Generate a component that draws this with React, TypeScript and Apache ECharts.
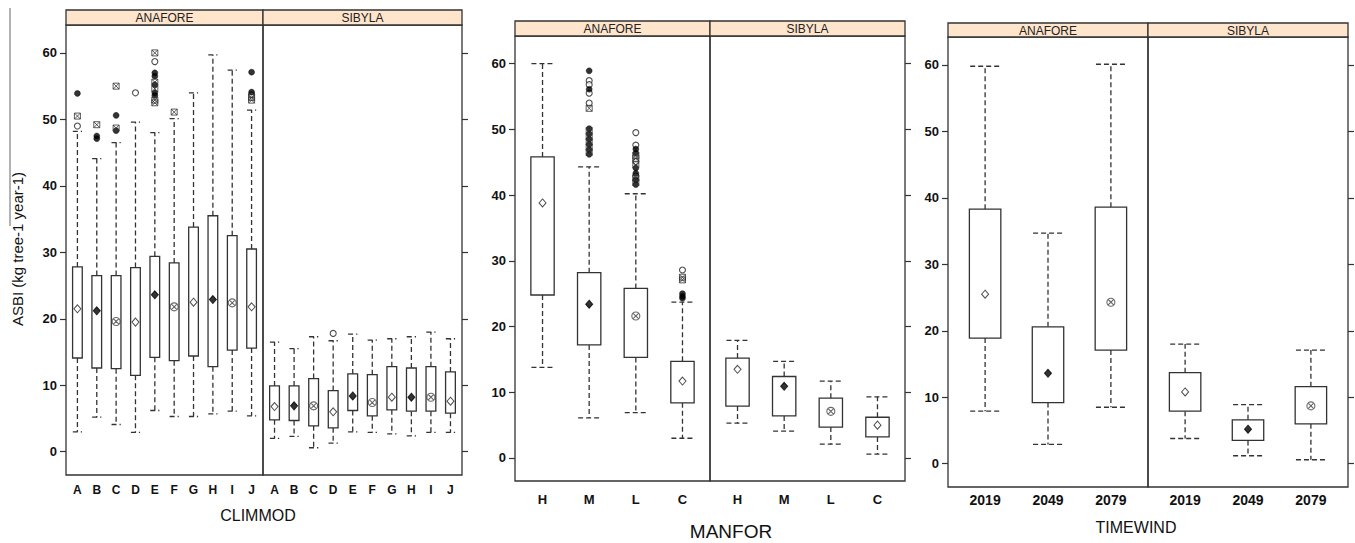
import React, { useEffect, useRef } from "react";
import * as echarts from "echarts";

// ---------- categories ----------
const FACETS = ["ANAFORE", "SIBYLA"];
const climCats = ["A", "B", "C", "D", "E", "F", "G", "H", "I", "J"];
const manforCats = ["H", "M", "L", "C"];
const timeCats = ["2019", "2049", "2079"];
const yTicks = [0, 10, 20, 30, 40, 50, 60];

// ---------- box stats: [lower whisker, Q1, Q3, upper whisker] ----------
const climAnaforeBox = [
  [3.0, 14.1, 27.8, 48.2], [5.2, 12.6, 26.5, 44.1], [4.1, 12.5, 26.5, 46.5], [2.9, 11.5, 27.7, 49.6],
  [6.2, 14.2, 29.4, 48.0], [5.3, 13.7, 28.4, 50.1], [5.3, 14.4, 33.8, 54.0], [5.7, 12.8, 35.5, 59.7],
  [6.1, 15.3, 32.5, 57.4], [5.4, 15.6, 30.5, 51.4],
];
const climAnaforeMean = [21.5, 21.2, 19.6, 19.5, 23.6, 21.8, 22.5, 22.9, 22.4, 21.8];
const climSibylaBox = [
  [2.0, 4.8, 9.9, 16.5], [2.3, 4.7, 9.9, 15.5], [0.6, 3.9, 11.0, 17.3], [1.3, 3.6, 9.2, 16.7],
  [3.0, 6.2, 11.7, 17.7], [2.9, 5.4, 11.6, 16.8], [2.7, 6.3, 12.8, 17.0], [2.4, 6.1, 12.6, 17.3],
  [2.9, 6.1, 12.8, 18.0], [2.9, 5.8, 12.0, 17.0],
];
const climSibylaMean = [6.8, 6.9, 6.9, 6.0, 8.4, 7.4, 8.2, 8.2, 8.2, 7.6];

const manforAnaforeBox = [
  [13.8, 24.8, 45.8, 60.0], [6.1, 17.2, 28.2, 44.3], [6.9, 15.3, 25.8, 40.2], [3.0, 8.4, 14.7, 23.7],
];
const manforAnaforeMean = [38.8, 23.4, 21.6, 11.7];
const manforSibylaBox = [
  [5.3, 7.9, 15.2, 17.9], [4.1, 6.4, 12.4, 14.7], [2.1, 4.7, 9.1, 11.7], [0.6, 3.2, 6.2, 9.3],
];
const manforSibylaMean = [13.5, 10.9, 7.1, 5.0];

const timeAnaforeBox = [
  [7.9, 18.9, 38.3, 59.8], [2.9, 9.2, 20.6, 34.7], [8.5, 17.1, 38.6, 60.1],
];
const timeAnaforeMean = [25.5, 13.6, 24.3];
const timeSibylaBox = [
  [3.8, 7.9, 13.7, 18.0], [1.2, 3.5, 6.6, 8.9], [0.6, 6.0, 11.6, 17.1],
];
const timeSibylaMean = [10.8, 5.2, 8.7];

// ---------- outliers per category (open / filled / crossed) ----------
const climAnaforeOutOpen = [[49.0], [], [], [54.0], [58.7], [], [], [], [], [53.7]];
const climAnaforeOutFilled = [[53.9], [47.5, 47.1], [50.6, 48.3], [], [57.0, 56.5, 55.2, 54.0, 53.6], [], [], [], [], [57.1, 54.1]];
const climAnaforeOutCross = [[50.5], [49.2], [55.0, 48.7], [], [60.0, 55.6, 54.6, 52.9, 52.5], [51.1], [], [], [], [53.3, 52.9]];
const climSibylaOutOpen = [[], [], [], [17.8], [], [], [], [], [], []];

const manforAnaforeOutOpen = [[], [57.4, 56.8, 55.5, 54.0], [49.5, 47.6, 45.1, 42.9], [28.6]];
const manforAnaforeOutFilled = [[], [58.9, 56.1, 50.1, 49.3, 48.5, 47.7, 46.9, 46.2], [47.0, 46.4, 44.1, 43.3, 42.3, 41.6], [25.0, 24.6, 24.3]];
const manforAnaforeOutCross = [[], [53.2, 49.8, 48.9, 48.1, 47.3, 46.5], [46.0, 45.6, 44.6, 42.6, 41.9], [27.5, 27.1]];

const EMPTY = (n: number) => Array.from({ length: n }, () => [] as number[]);

const panelsData = [
  {
    cats: climCats, title: "CLIMMOD",
    facets: [
      { box: climAnaforeBox, mean: climAnaforeMean, out: [climAnaforeOutOpen, climAnaforeOutFilled, climAnaforeOutCross] },
      { box: climSibylaBox, mean: climSibylaMean, out: [climSibylaOutOpen, EMPTY(10), EMPTY(10)] },
    ],
  },
  {
    cats: manforCats, title: "MANFOR",
    facets: [
      { box: manforAnaforeBox, mean: manforAnaforeMean, out: [manforAnaforeOutOpen, manforAnaforeOutFilled, manforAnaforeOutCross] },
      { box: manforSibylaBox, mean: manforSibylaMean, out: [EMPTY(4), EMPTY(4), EMPTY(4)] },
    ],
  },
  {
    cats: timeCats, title: "TIMEWIND",
    facets: [
      { box: timeAnaforeBox, mean: timeAnaforeMean, out: [EMPTY(3), EMPTY(3), EMPTY(3)] },
      { box: timeSibylaBox, mean: timeSibylaMean, out: [EMPTY(3), EMPTY(3), EMPTY(3)] },
    ],
  },
];

// ---------- layout (pixels) ----------
const layouts = [
  { left: 66, mid: 263, right: 462, stripTop: 10, top: 25, bottom: 475, xFont: 12, xMargin: 9, titleX: 258, titleY: 515, titleFont: 16 },
  { left: 515, mid: 710, right: 905, stripTop: 21, top: 36, bottom: 481, xFont: 13, xMargin: 12, titleX: 731, titleY: 531, titleFont: 19 },
  { left: 948, mid: 1148, right: 1348, stripTop: 23, top: 37, bottom: 487, xFont: 14, xMargin: 6, titleX: 1136, titleY: 527, titleFont: 16 },
];

const FONT = "'Liberation Sans', Arial, sans-serif";
const INK = "#333";
const Y_MIN = -3.5;
const Y_MAX = 64.2;

const CIRCLE_X = "path://M0,5A5,5 0 1 1 10,5A5,5 0 1 1 0,5ZM1.6,1.6L8.4,8.4M8.4,1.6L1.6,8.4";
const SQUARE_X = "path://M0,0L10,0L10,10L0,10ZM0,0L10,10M10,0L0,10";

function meanStyle(i: number) {
  const k = i % 3;
  if (k === 0) return { symbol: "diamond", symbolSize: [7, 8], itemStyle: { color: "#fff", borderColor: "#222", borderWidth: 1 } };
  if (k === 1) return { symbol: "diamond", symbolSize: [7, 8], itemStyle: { color: "#000", borderColor: "#000", borderWidth: 1 } };
  return { symbol: CIRCLE_X, symbolSize: 8, itemStyle: { color: "rgba(0,0,0,0)", borderColor: "#444", borderWidth: 1.1 } };
}

const outStyles = [
  { symbol: "circle", symbolSize: 6, itemStyle: { color: "#fff", borderColor: "#222", borderWidth: 1.1 } },
  { symbol: "circle", symbolSize: 6, itemStyle: { color: "#000", borderColor: "#000", borderWidth: 0.5 } },
  { symbol: SQUARE_X, symbolSize: 6, itemStyle: { color: "rgba(0,0,0,0)", borderColor: "#333", borderWidth: 1 } },
];

function renderBox(params: any, api: any) {
  const x = api.value(0);
  const lo = api.coord([x, api.value(1)]);
  const q1 = api.coord([x, api.value(2)]);
  const q3 = api.coord([x, api.value(3)]);
  const hi = api.coord([x, api.value(4)]);
  const bw = api.size([0.5, 0])[0];
  const cw = bw * 0.95;
  const cx = q1[0];
  const dash = { stroke: INK, lineWidth: 1.3, lineDash: [5, 3], fill: null };
  return {
    type: "group",
    children: [
      { type: "line", shape: { x1: cx, y1: q3[1], x2: cx, y2: hi[1] }, style: dash },
      { type: "line", shape: { x1: cx, y1: q1[1], x2: cx, y2: lo[1] }, style: dash },
      { type: "line", shape: { x1: cx - cw / 2, y1: hi[1], x2: cx + cw / 2, y2: hi[1] }, style: dash },
      { type: "line", shape: { x1: cx - cw / 2, y1: lo[1], x2: cx + cw / 2, y2: lo[1] }, style: dash },
      { type: "rect", shape: { x: cx - bw / 2, y: q3[1], width: bw, height: q1[1] - q3[1] }, style: { fill: "#fff", stroke: INK, lineWidth: 1.3 } },
    ],
  };
}

function buildOption() {
  const grid: any[] = [];
  const xAxis: any[] = [];
  const yAxis: any[] = [];
  const series: any[] = [];
  const graphic: any[] = [];

  panelsData.forEach((p, pi) => {
    const L = layouts[pi];
    const n = p.cats.length;
    const edges = [[L.left, L.mid], [L.mid, L.right]];
    p.facets.forEach((f, fi) => {
      const gi = grid.length;
      const [x0, x1] = edges[fi];
      grid.push({
        left: x0, top: L.top, width: x1 - x0, height: L.bottom - L.top,
        show: true, borderColor: INK, borderWidth: 1.3, backgroundColor: "transparent",
      });
      xAxis.push({
        type: "value", gridIndex: gi, min: 0.41, max: n + 0.59,
        axisLine: { show: false }, axisTick: { show: false }, splitLine: { show: false },
        axisLabel: {
          customValues: p.cats.map((_, i) => i + 1),
          formatter: (v: number) => p.cats[Math.round(v) - 1] ?? "",
          fontFamily: FONT, fontWeight: "bold", fontSize: L.xFont, color: "#111", margin: L.xMargin,
        },
      });
      yAxis.push({
        type: "value", gridIndex: gi, min: Y_MIN, max: Y_MAX, position: fi === 0 ? "left" : "right",
        axisLine: { show: false }, splitLine: { show: false },
        axisTick: { show: true, length: 6, customValues: yTicks, lineStyle: { color: INK, width: 1.2 } },
        axisLabel: {
          show: fi === 0, customValues: yTicks, margin: 9,
          fontFamily: FONT, fontWeight: "bold", fontSize: 13, color: "#111",
        },
      });
      series.push({
        type: "custom", xAxisIndex: gi, yAxisIndex: gi, renderItem: renderBox, clip: false,
        data: f.box.map((b, i) => [i + 1, ...b]),
        encode: { x: 0, y: [1, 2, 3, 4] }, z: 2,
      });
      f.out.forEach((group, oi) => {
        const data: any[] = [];
        group.forEach((vals, ci) => vals.forEach((v) => data.push([ci + 1, v])));
        if (data.length) {
          series.push({
            type: "scatter", xAxisIndex: gi, yAxisIndex: gi, data, z: 3,
            symbol: outStyles[oi].symbol, symbolSize: outStyles[oi].symbolSize, itemStyle: outStyles[oi].itemStyle,
          });
        }
      });
      series.push({
        type: "scatter", xAxisIndex: gi, yAxisIndex: gi, z: 4,
        data: f.mean.map((m, i) => ({ value: [i + 1, m], ...meanStyle(i) })),
      });
      // strip
      graphic.push({
        type: "rect", shape: { x: x0, y: L.stripTop, width: x1 - x0, height: L.top - L.stripTop },
        style: { fill: "#FFE5CC", stroke: INK, lineWidth: 1.3 }, z: 10,
      });
      graphic.push({
        type: "text", x: (x0 + x1) / 2, y: (L.stripTop + L.top) / 2 + 0.5, z: 11,
        style: { text: FACETS[fi], font: `12px ${FONT}`, fill: "#222", align: "center", verticalAlign: "middle" },
      });
    });
    graphic.push({
      type: "text", x: L.titleX, y: L.titleY,
      style: { text: p.title, font: `${L.titleFont}px ${FONT}`, fill: "#111", align: "center", verticalAlign: "middle" },
    });
  });

  graphic.push({
    type: "text", x: 17, y: 249, rotation: Math.PI / 2,
    style: { text: "ASBI (kg tree-1 year-1)", font: `15px ${FONT}`, fill: "#111", align: "center", verticalAlign: "middle" },
  });
  graphic.push({
    type: "line", shape: { x1: 10, y1: 8, x2: 10, y2: 226 }, style: { stroke: "#666", lineWidth: 1 },
  });

  return { animation: false, backgroundColor: "#fff", grid, xAxis, yAxis, series, graphic };
}

export default function App() {
  const ref = useRef<HTMLDivElement>(null);
  useEffect(() => {
    if (!ref.current) return;
    const chart = echarts.init(ref.current, null, { renderer: "svg" });
    chart.setOption(buildOption() as any);
    return () => chart.dispose();
  }, []);
  return (
    <div
      ref={ref}
      style={{ position: "fixed", left: 0, top: 0, width: 1355, height: 543, background: "#fff" }}
    />
  );
}
